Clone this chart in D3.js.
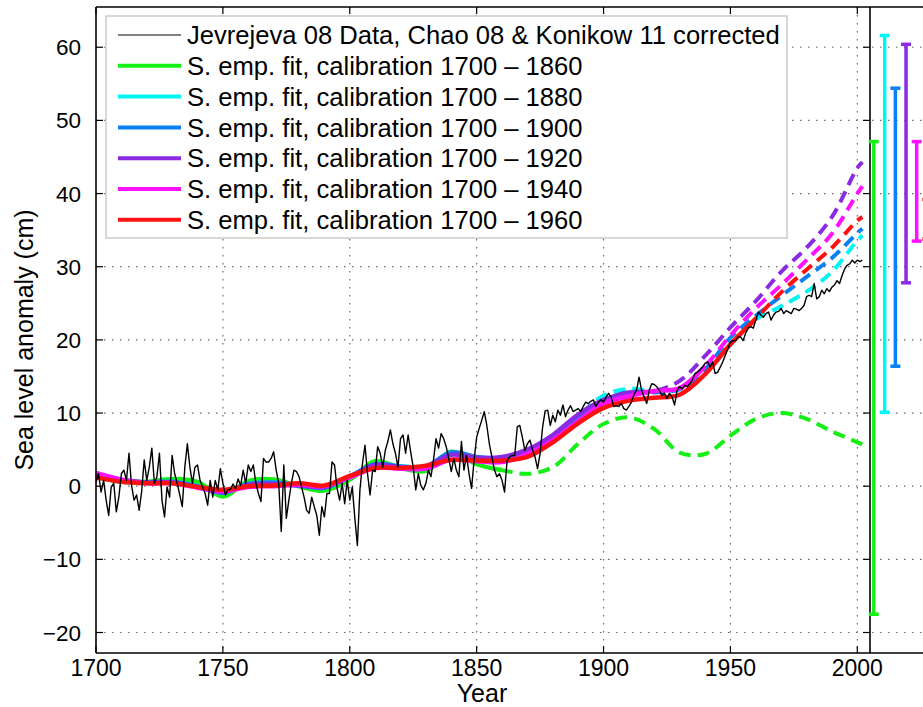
<!DOCTYPE html>
<html><head><meta charset="utf-8">
<script src="https://cdn.jsdelivr.net/npm/d3@7"></script>
<style>body{margin:0;background:#fff}svg{display:block}text{font-family:"Liberation Sans",Arial,Helvetica,sans-serif;fill:#000}</style>
</head><body><svg id="c" width="923" height="707"></svg>
<script>
// ---------------- data ----------------
const dataStartYear = 1700;
const seaLevel = [
 0.5, 1.7, -0.8, 0.8, -1.9, -4.0, -0.1, 0.4, -3.5, -1.5,
 1.7, 2.2, 0.8, 4.5, 0.1, -1.9, -1.2, -3.3, -0.7, 3.6,
 0.8, 2.6, 5.2, 0.4, 1.3, 4.5, -1.9, -4.2, -0.1, -1.5,
 4.2, 1.7, 0.4, -1.2, -2.8, 2.6, 5.8, 2.6, 0.4, 2.6,
 2.9, 0.8, -0.1, -1.0, -2.6, 0.8, -1.5, 0.8, -0.5, 2.4,
 0.4, -1.2, -0.5, -0.4, 0.3, -0.3, 1.0, 0.1, 2.2, 0.4,
 2.9, 2.0, 2.9, 0.4, -1.0, -2.1, 3.8, 3.3, 3.3, 3.8,
 4.7, 2.2, 0.4, -6.2, 2.9, -4.4, -1.9, 0.4, 2.2, 2.0,
 1.3, -0.1, -1.5, -3.3, -3.7, -1.5, -2.8, -4.0, -6.7, -2.8,
 -4.2, -1.0, -1.0, 3.3, 2.9, -0.3, -1.9, 0.4, -2.4, 0.8,
 -1.9, -0.1, -4.4, -8.1, -0.5, 3.1, 5.6, 1.7, -1.2, 2.2,
 2.0, 5.4, 4.5, 2.6, 4.9, 6.1, 7.7, 5.8, 4.5, 2.6,
 6.5, 7.0, 4.5, 7.0, 4.7, 2.6, -0.5, 1.7, 0.1, -0.5,
 0.4, 2.2, 1.3, 3.6, 6.5, 5.2, 7.2, 6.5, 5.4, 3.8,
 2.0, 3.8, 2.2, 1.3, 6.1, 2.2, 4.2, 1.7, -0.3, 3.6,
 6.7, 7.9, 9.0, 10.2, 8.3, 5.8, 4.0, 2.2, 1.3, 1.7,
 0.8, -0.8, 3.5, 4.0, 4.2, 4.2, 8.1, 8.3, 6.7, 4.9,
 5.8, 6.3, 5.0, 4.0, 2.4, 4.5, 8.1, 10.3, 10.4, 8.3,
 9.7, 8.8, 10.4, 9.7, 11.1, 9.5, 10.4, 11.0, 10.2, 10.4,
 10.6, 10.2, 10.9, 11.5, 11.3, 11.6, 11.8, 10.9, 11.5, 11.8,
 11.5, 12.2, 12.7, 12.2, 10.9, 11.0, 10.9, 11.3, 10.6, 10.4,
 10.9, 11.5, 12.5, 13.1, 14.9, 13.1, 12.2, 11.3, 13.1, 14.0,
 13.9, 13.6, 13.1, 12.4, 12.7, 12.0, 12.7, 12.2, 11.1, 13.1,
 13.6, 13.3, 13.8, 13.6, 14.0, 14.5, 15.4, 15.6, 15.9, 16.3,
 16.8, 17.0, 16.3, 17.0, 15.4, 15.6, 16.3, 17.0, 17.9, 18.8,
 19.7, 19.9, 19.9, 20.4, 20.4, 19.9, 20.9, 21.6, 21.8, 21.6,
 22.7, 23.8, 23.4, 23.1, 23.6, 23.8, 22.7, 23.4, 23.8, 23.9,
 24.3, 23.6, 24.0, 23.8, 23.6, 24.3, 24.2, 24.0, 24.3, 24.7,
 25.9, 26.1, 25.9, 27.7, 25.6, 25.9, 26.8, 26.3, 27.0, 26.6,
 27.2, 27.5, 28.1, 27.7, 28.8, 29.7, 30.2, 30.4, 30.9, 30.5,
 30.9, 30.7, 30.9
];

const fitYears = [1700,1710,1720,1730,1740,1750,1760,1770,1780,1790,1800,1810,1820,1830,1840,1850,
                  1860,1870,1880,1890,1900,1910,1920,1930,1940,1950,1960,1970,1980,1990,2000,2002];
const fit1860 = [1.3,0.6,0.6,1.0,0.6,-1.4,0.7,0.9,0.0,-0.6,0.9,3.4,2.5,2.1,4.7,3.0,
                 2.2,1.7,2.6,5.8,8.5,9.4,7.8,4.6,4.4,6.9,9.2,10.0,9.2,7.5,6.0,5.7];
const fit1880 = [1.5,0.8,0.5,0.6,0.0,-0.9,0.3,0.5,0.1,-0.2,1.3,3.0,2.7,2.7,4.5,3.9,
                 3.9,4.8,6.8,9.6,12.4,13.3,13.0,13.2,15.4,19.3,22.8,24.6,26.6,29.3,33.6,34.3];
const fit1900 = [1.5,0.8,0.5,0.6,0.0,-0.9,0.3,0.5,0.1,-0.2,1.3,3.0,2.7,2.7,4.6,4.0,
                 3.8,4.6,6.5,9.3,11.6,12.9,12.8,13.3,16.0,20.3,23.3,26.0,28.6,31.2,34.6,35.2];
const fit1920 = [1.6,0.9,0.5,0.5,-0.1,-0.8,0.2,0.3,0.1,-0.1,1.3,2.9,2.6,2.7,4.3,3.9,
                 4.0,5.0,7.0,9.8,11.8,12.8,13.0,14.4,17.8,21.7,25.3,29.3,32.6,36.8,43.5,44.3];
const fit1940 = [1.8,0.9,0.4,0.4,-0.2,-0.7,-0.1,0.0,0.2,0.0,1.2,2.5,2.4,2.4,3.6,3.4,
                 3.3,4.4,6.3,8.9,11.3,12.3,13.0,13.4,16.4,20.6,24.3,27.5,30.9,34.5,40.0,41.0];
const fit1960 = [1.2,0.6,0.4,0.4,-0.1,-0.5,0.0,0.1,0.4,0.1,1.4,2.5,2.5,2.8,3.6,3.5,
                 3.5,4.0,6.0,8.6,10.7,11.7,12.1,12.5,15.3,19.4,22.9,26.5,29.6,32.6,36.3,36.8];

const fitSeries = [fit1860, fit1880, fit1900, fit1920, fit1940, fit1960];
const calibEnd = [1860, 1880, 1900, 1920, 1940, 1960];
const seriesColors = ["#14f014", "#00f5f5", "#0a80f5", "#8a2be2", "#ff10ff", "#ff1010"];
const dataLabel = "Jevrejeva 08 Data, Chao 08 & Konikow 11 corrected";
const fitLabels = calibEnd.map(e => "S. emp. fit, calibration 1700 \u2013 " + e);

// projection ranges (error bars) drawn right of the plot
const errYears = [2006.5, 2010.8, 2015.0, 2019.2, 2023.4, 2027.6];
const errLow  = [-17.5, 10.1, 16.4, 27.8, 33.5, 33.8];
const errHigh = [47.1, 61.6, 54.4, 60.4, 47.1, 39.2];

const xTicks = [1700, 1750, 1800, 1850, 1900, 1950, 2000];
const yTicks = [-20, -10, 0, 10, 20, 30, 40, 50, 60];

// ---------------- drawing ----------------
const W = 923, H = 707;
const L = 96, R = 870, T = 7, B = 653;
const svg = d3.select("#c");
const x = d3.scaleLinear().domain([1700, 2005]).range([L, R]);
const y = d3.scaleLinear().domain([-22.8, 65.5]).range([B, T]);

// grid
const grid = svg.append("g").attr("stroke", "#6a6a6a").attr("stroke-width", 1.2)
  .attr("stroke-dasharray", "1.5,6.5").attr("fill", "none");
grid.selectAll("line.h").data(yTicks).join("line").attr("class", "h")
  .attr("x1", L).attr("x2", W).attr("y1", d => y(d)).attr("y2", d => y(d));
grid.selectAll("line.v").data(xTicks.slice(1)).join("line").attr("class", "v")
  .attr("y1", T).attr("y2", B).attr("x1", d => x(d)).attr("x2", d => x(d));

// fits
const defs = svg.append("defs");
const line = d3.line().x(d => x(d[0])).y(d => y(d[1])).curve(d3.curveCatmullRom.alpha(0.5));
fitSeries.forEach((vals, i) => {
  const pts = fitYears.map((yr, k) => [yr, vals[k]]);
  const xe = x(calibEnd[i]);
  defs.append("clipPath").attr("id", "cs" + i).append("rect")
    .attr("x", 0).attr("y", 0).attr("width", xe).attr("height", H);
  defs.append("clipPath").attr("id", "cd" + i).append("rect")
    .attr("x", xe).attr("y", 0).attr("width", W - xe).attr("height", H);
  svg.append("path").attr("d", line(pts)).attr("fill", "none")
    .attr("stroke", seriesColors[i]).attr("stroke-width", 4.5)
    .attr("clip-path", `url(#cs${i})`);
  svg.append("path").attr("d", line(pts)).attr("fill", "none")
    .attr("stroke", seriesColors[i]).attr("stroke-width", 4)
    .attr("stroke-dasharray", "12,7").attr("clip-path", `url(#cd${i})`);
});

// observed data
const dataLine = d3.line().x((d, k) => x(dataStartYear + k)).y(d => y(d));
svg.append("path").attr("d", dataLine(seaLevel)).attr("fill", "none")
  .attr("stroke", "#000").attr("stroke-width", 1.4).attr("stroke-linejoin", "round");

// axes frame
const frame = svg.append("g").attr("stroke", "#000").attr("stroke-width", 1.6);
frame.append("line").attr("x1", L).attr("x2", W).attr("y1", T).attr("y2", T);
frame.append("line").attr("x1", L).attr("x2", W).attr("y1", B).attr("y2", B);
frame.append("line").attr("x1", L).attr("x2", L).attr("y1", T).attr("y2", B);
frame.append("line").attr("x1", R).attr("x2", R).attr("y1", T).attr("y2", B);
const tk = svg.append("g").attr("stroke", "#000").attr("stroke-width", 1.2);
yTicks.forEach(t => {
  tk.append("line").attr("x1", L).attr("x2", L + 7).attr("y1", y(t)).attr("y2", y(t));
  tk.append("line").attr("x1", R - 7).attr("x2", R).attr("y1", y(t)).attr("y2", y(t));
});
xTicks.forEach(t => {
  tk.append("line").attr("x1", x(t)).attr("x2", x(t)).attr("y1", B).attr("y2", B - 7);
  tk.append("line").attr("x1", x(t)).attr("x2", x(t)).attr("y1", T).attr("y2", T + 7);
});

// tick labels
const fmt = d3.format("d");
svg.append("g").selectAll("text").data(yTicks).join("text")
  .attr("x", 81).attr("y", d => y(d)).attr("dy", "0.36em")
  .attr("text-anchor", "end").attr("font-size", 22.5).text(d => fmt(d));
svg.append("g").selectAll("text").data(xTicks).join("text")
  .attr("x", d => x(d)).attr("y", 676)
  .attr("text-anchor", "middle").attr("font-size", 23).text(d => fmt(d));

// axis titles
svg.append("text").attr("x", 482).attr("y", 702).attr("text-anchor", "middle")
  .attr("font-size", 25).text("Year");
svg.append("text").attr("transform", "translate(33,340) rotate(-90)")
  .attr("text-anchor", "middle").attr("font-size", 25).text("Sea level anomaly (cm)");

// error bars
const eb = svg.append("g").attr("stroke-width", 3.5);
errYears.forEach((yr, i) => {
  const cx = x(yr), c = seriesColors[i];
  eb.append("line").attr("x1", cx).attr("x2", cx).attr("y1", y(errLow[i])).attr("y2", y(errHigh[i])).attr("stroke", c);
  eb.append("line").attr("x1", cx - 5).attr("x2", cx + 5).attr("y1", y(errLow[i])).attr("y2", y(errLow[i])).attr("stroke", c);
  eb.append("line").attr("x1", cx - 5).attr("x2", cx + 5).attr("y1", y(errHigh[i])).attr("y2", y(errHigh[i])).attr("stroke", c);
});

// legend
const lg = svg.append("g");
lg.append("rect").attr("x", 106).attr("y", 16).attr("width", 681).attr("height", 222)
  .attr("fill", "#fff").attr("stroke", "#cfcbc6").attr("stroke-width", 1.5);
const items = [{label: dataLabel, color: "#000", w: 1}]
  .concat(fitLabels.map((l, i) => ({label: l, color: seriesColors[i], w: 4})));
items.forEach((it, i) => {
  const yy = 35 + i * 30.8;
  lg.append("line").attr("x1", 118).attr("x2", 181).attr("y1", yy).attr("y2", yy)
    .attr("stroke", it.color).attr("stroke-width", it.w);
  lg.append("text").attr("x", 187).attr("y", yy).attr("dy", "0.36em")
    .attr("font-size", 25.6).text(it.label);
});
</script></body></html>
